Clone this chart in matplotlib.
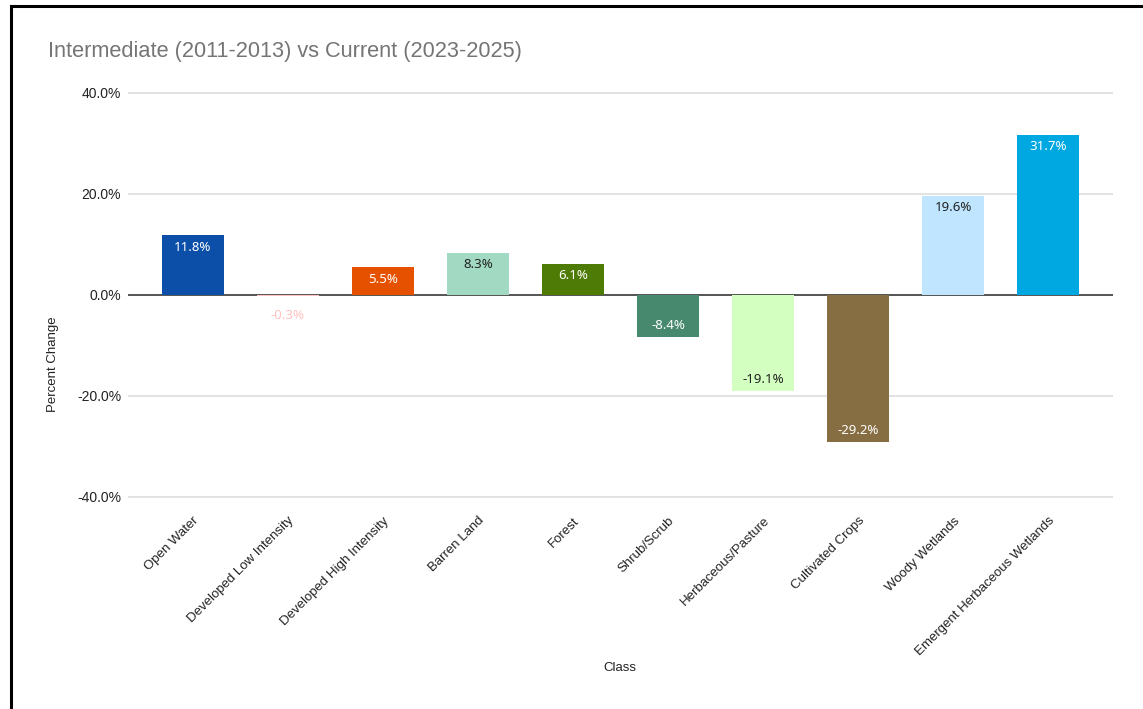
import numpy as np
import matplotlib.pyplot as plt
from matplotlib.lines import Line2D

classes = ['Open Water', 'Developed Low Intensity', 'Developed High Intensity', 'Barren Land',
           'Forest', 'Shrub/Scrub', 'Herbaceous/Pasture', 'Cultivated Crops',
           'Woody Wetlands', 'Emergent Herbaceous Wetlands']
pct_change = [11.8, -0.3, 5.5, 8.3, 6.1, -8.4, -19.1, -29.2, 19.6, 31.7]
bar_colors = ['#0B4FA8', '#FFC2C2', '#E65100', '#A1D9C3', '#4E7A06',
              '#47896E', '#D3FFC0', '#876D42', '#C0E6FF', '#00A8E2']
label_colors = ['white', '#FFC2C2', 'white', '#222222', 'white',
                'white', '#222222', 'white', '#222222', 'white']
y_ticks = [-40, -20, 0, 20, 40]

plt.rcParams['font.family'] = ['Liberation Sans', 'DejaVu Sans']

fig = plt.figure(figsize=(11.43, 7.09), dpi=100)
ax = fig.add_axes([0.112, 0.2955, 0.8618, 0.5769])

x = np.arange(len(classes))
bars = ax.bar(x, pct_change, width=0.65, color=bar_colors, zorder=4)

for i, (b, v) in enumerate(zip(bars, pct_change)):
    if abs(v) < 3:
        off = -14 if v < 0 else 14
    else:
        off = -8.5 if v > 0 else 8.5
    ax.annotate(f'{v:.1f}%', (b.get_x() + b.get_width() / 2, v),
                xytext=(0, off), textcoords='offset points',
                ha='center', va='center', fontsize=9.5, color=label_colors[i],
                family=['Noto Sans', 'DejaVu Sans'], zorder=5)

ax.set_ylim(-40.5, 40.5)
ax.set_xlim(-0.68, 9.68)
ax.set_yticks(y_ticks)
ax.set_yticklabels([f'{t:.1f}%' for t in y_ticks], fontsize=10, color='#222222')
ax.yaxis.grid(True, color='#DDDDDD', linewidth=1.2, zorder=0)
ax.axhline(0, color='#555555', linewidth=1.4, zorder=3)
ax.tick_params(axis='y', length=0, pad=5)
ax.set_xticks(x)
ax.set_xticklabels(classes, rotation=45, ha='right', va='top',
                   rotation_mode='anchor', fontsize=9.5, color='#222222')
ax.tick_params(axis='x', length=0, pad=11)
for s in ax.spines.values():
    s.set_visible(False)

fig.text(48 / 1143, 1 - 51 / 709, 'Intermediate (2011-2013) vs Current (2023-2025)',
         fontsize=15.7, color='#757575', va='center', ha='left')
fig.text(53 / 1143, 1 - 364 / 709, 'Percent Change', rotation=90,
         fontsize=9.5, color='#222222', va='center', ha='center')
fig.text(620 / 1143, 1 - 668 / 709, 'Class', fontsize=9.5, color='#222222',
         va='center', ha='center')

# frame lines of the screenshot
fig.add_artist(Line2D([10.5 / 1143, 10.5 / 1143], [0, 1 - 5.5 / 709],
                      color='black', linewidth=2.2))
fig.add_artist(Line2D([10.5 / 1143, 1], [1 - 5.5 / 709, 1 - 5.5 / 709],
                      color='black', linewidth=2.2))

fig.savefig('out.png', dpi=100)
